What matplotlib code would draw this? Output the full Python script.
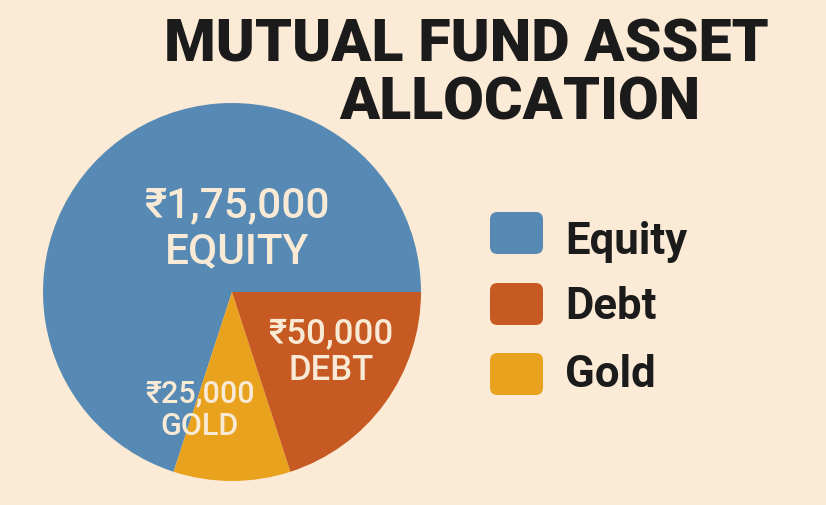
import matplotlib
matplotlib.use("Agg")
import matplotlib.pyplot as plt
from matplotlib.patches import FancyBboxPatch

# Allocation data
categories = ["Equity", "Debt", "Gold"]
amounts = [175000, 50000, 25000]
amount_labels = ["₹1,75,000", "₹50,000", "₹25,000"]
slice_names = ["EQUITY", "DEBT", "GOLD"]
colors = ["#568AB4", "#C75A22", "#E8A21E"]

# Wedge order around the pie (counter-clockwise from 3 o'clock)
pie_order = [0, 2, 1]

BG = "#FBEAD5"
INK = "#1B1B1B"
LABEL = "#F9EAD6"
FONT = ["Roboto", "Noto Sans", "DejaVu Sans"]

W, H = 826, 505
fig = plt.figure(figsize=(W / 100, H / 100), dpi=100, facecolor=BG)

# Pie axes: centre (232, 292) px, radius 189 px
cx, cy, r = 232, 292, 189
ax = fig.add_axes([(cx - r) / W, (H - cy - r) / H, 2 * r / W, 2 * r / H])
ax.set_facecolor(BG)
ax.pie([amounts[i] for i in pie_order],
       colors=[colors[i] for i in pie_order],
       startangle=0, counterclock=True,
       radius=1.0, wedgeprops=dict(linewidth=0))
ax.set_xlim(-1, 1)
ax.set_ylim(-1, 1)
ax.axis("off")


def px(x, y):
    """Pixel position (from top-left) to pie data coordinates."""
    return (x - cx) / r, (cy - y) / r


# Slice labels: (centre x, baseline of amount, baseline of name, size)
label_layout = [
    (237, 217, 263, 30.5),
    (331, 343, 380, 25),
    (200, 402, 435, 22),
]
for (x, b1, b2, size), amt, name in zip(label_layout, amount_labels, slice_names):
    ax.text(*px(x, b1), amt, ha="center", va="baseline", color=LABEL,
            fontsize=size, fontweight="medium", family=FONT)
    ax.text(*px(x, b2), name, ha="center", va="baseline", color=LABEL,
            fontsize=size, fontweight="medium", family=FONT)

# Title
fig.text(466 / W, 1 - 62 / H, "MUTUAL FUND ASSET", ha="center", va="baseline",
         color=INK, fontsize=42.5, fontweight="black", family=FONT)
fig.text(520 / W, 1 - 120 / H, "ALLOCATION", ha="center", va="baseline",
         color=INK, fontsize=42.5, fontweight="black", family=FONT)

# Legend with rounded swatches
swatch_tops = [212, 283, 353]
text_baselines = [254, 319, 387]
sw_x, sw_w, sw_h = 490, 53, 42
for top, base, name, col in zip(swatch_tops, text_baselines, categories, colors):
    rp = FancyBboxPatch(
        (sw_x / W, 1 - (top + sw_h) / H), sw_w / W, sw_h / H,
        boxstyle="round,pad=0,rounding_size=0.009",
        transform=fig.transFigure, facecolor=col, edgecolor="none",
        mutation_aspect=W / H)
    fig.patches.append(rp)
    fig.text(565 / W, 1 - base / H, name, ha="left", va="baseline",
             color=INK, fontsize=31.5, fontweight="bold", family=FONT)

fig.savefig("out.png", dpi=100, facecolor=BG)
